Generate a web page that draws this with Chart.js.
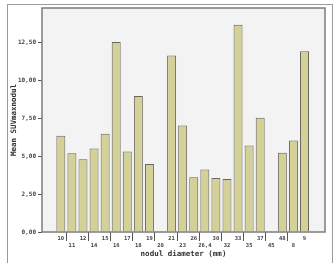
<!DOCTYPE html>
<html>
<head>
<meta charset="utf-8">
<script src="https://cdn.jsdelivr.net/npm/chart.js@4.4.1/dist/chart.umd.min.js"></script>
<style>
  html, body { margin: 0; padding: 0; background: #fff; overflow: hidden; }
  #wrap { position: relative; width: 334px; height: 263px; }
  #frame { position: absolute; left: 7px; top: 4px; width: 324px; height: 280px; border: 1px solid #9a9a9a; }
  canvas { position: absolute; left: 0; top: 0; }
</style>
</head>
<body>
<div id="wrap">
  <div id="frame"></div>
  <canvas id="myChart" width="334" height="263"></canvas>
</div>
<script>
const DIAMETERS = ['10', '11', '12', '14', '15', '16', '17', '18', '19', '20', '21', '23', '26', '26,4', '30', '32', '33', '35', '37', '45', '48', '8', '9'];
const MEAN_SUV = [6.36, 5.21, 4.81, 5.52, 6.49, 12.56, 5.32, 8.99, 4.50, null, 11.66, 7.04, 3.62, 4.13, 3.56, 3.51, 13.69, 5.72, 7.55, null, 5.23, 6.05, 11.94];
const Y_TICKS = [0, 2.5, 5, 7.5, 10, 12.5];

const FONT = "'DejaVu Sans Mono', monospace";

// plot area background + border
const plotFrame = {
    id: 'plotFrame',
    beforeDatasetsDraw(chart) {
        const {ctx, chartArea: a} = chart;
        ctx.save();
        ctx.fillStyle = '#f3f3f3';
        ctx.fillRect(a.left, a.top, a.right - a.left, a.bottom - a.top);
        ctx.restore();
    },
    afterDatasetsDraw(chart) {
        const {ctx, chartArea: a} = chart;
        ctx.save();
        ctx.strokeStyle = '#7c7c7c';
        ctx.lineWidth = 1.5;
        ctx.strokeRect(a.left, a.top, a.right - a.left, a.bottom - a.top);
        ctx.restore();
    }
};

const config = {
    type: 'bar',
    data: {
        datasets: [{
            label: 'Mean SUVmaxnodul',
            data: MEAN_SUV.map((v, i) => ({ x: i, y: v })),
            backgroundColor: '#d3d198',
            borderColor: '#66665a',
            borderWidth: 1,
            barPercentage: 0.81,
            categoryPercentage: 1
        }]
    },
    options: {
        responsive: false,
        animation: false,
        layout: { padding: { left: 0, top: 8, right: 9, bottom: 0 } },
        plugins: {
            legend: { display: false },
            tooltip: { enabled: false }
        },
        scales: {
            x: {
                type: 'linear',
                offset: false,
                // extra empty space on both sides of the bars, like SPSS
                min: -1.7,
                max: 23.85,
                afterBuildTicks: (s) => { s.ticks = DIAMETERS.map((d, i) => ({ value: i })); },
                afterFit: (s) => { s.height = 31; },
                grid: {
                    drawOnChartArea: false,
                    tickLength: 9,
                    tickWidth: 1,
                    tickColor: (c) => c.index % 2 ? '#555' : 'rgba(0,0,0,0)'
                },
                border: { display: false },
                ticks: {
                    autoSkip: false,
                    maxRotation: 0,
                    padding: -6,
                    color: '#444',
                    font: { family: FONT, size: 5.5, weight: 'bold', lineHeight: 1.3 },
                    callback: (v) => v % 2 ? ['', DIAMETERS[v]] : [DIAMETERS[v]]
                },
                title: {
                    display: true,
                    text: 'nodul diameter (mm)',
                    color: '#333',
                    padding: { top: 0, bottom: 4 },
                    font: { family: FONT, size: 7.5, weight: 'bold' }
                }
            },
            y: {
                min: 0,
                max: 14.8,
                afterFit: (s) => { s.width = 42; },
                afterBuildTicks: (s) => { s.ticks = Y_TICKS.map(v => ({ value: v })); },
                grid: {
                    drawOnChartArea: false,
                    tickLength: 4,
                    tickColor: '#555'
                },
                border: { display: false },
                ticks: {
                    padding: 2,
                    color: '#444',
                    font: { family: FONT, size: 6, weight: 'bold' },
                    callback: (v) => v.toFixed(2).replace('.', ',')
                },
                title: {
                    display: true,
                    text: 'Mean SUVmaxnodul',
                    color: '#333',
                    padding: { top: 10, bottom: 0 },
                    font: { family: FONT, size: 7.5, weight: 'bold' }
                }
            }
        }
    },
    plugins: [plotFrame]
};

const myChart = new Chart(document.getElementById('myChart'), config);
</script>
</body>
</html>
